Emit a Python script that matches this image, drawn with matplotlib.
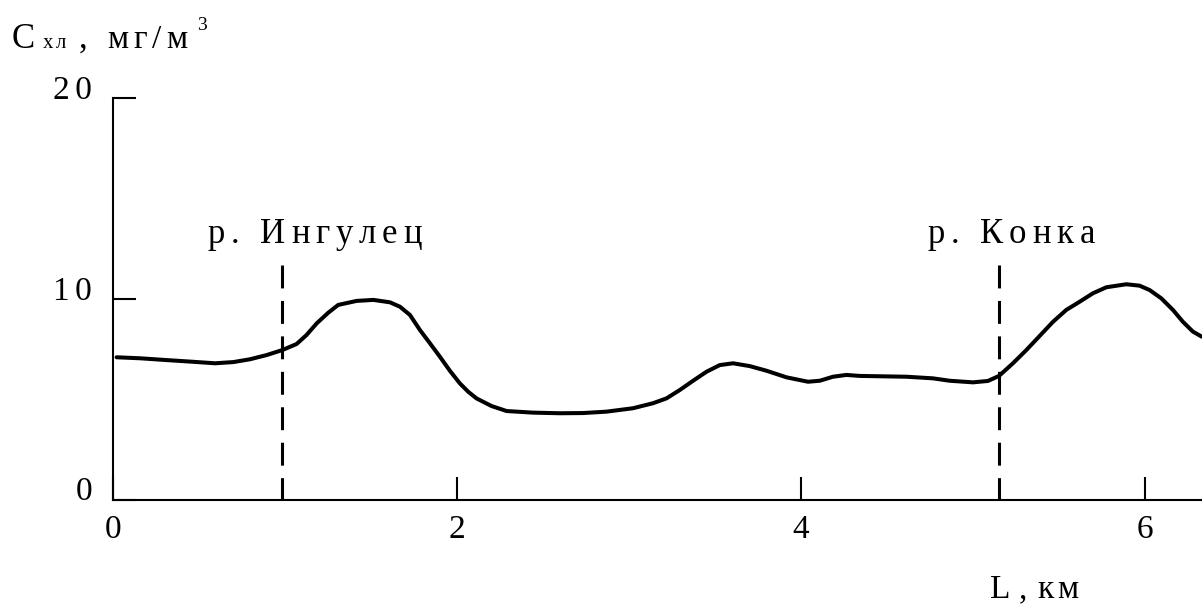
import matplotlib
matplotlib.use("Agg")
import matplotlib.pyplot as plt
from matplotlib import font_manager
from matplotlib.ft2font import FT2Font
from matplotlib.transforms import ScaledTranslation

plt.rcParams['font.family'] = ['Liberation Serif', 'DejaVu Serif']

# концентрация хлоридов вдоль русла
dist_km = [0.021, 0.157, 0.312, 0.457, 0.593, 0.699, 0.796, 0.893, 0.984,
           1.067, 1.125, 1.184, 1.251, 1.309, 1.416, 1.513, 1.610, 1.668,
           1.726, 1.784, 1.842, 1.900, 1.958, 2.016, 2.065, 2.113, 2.200,
           2.288, 2.442, 2.597, 2.733, 2.869, 3.023, 3.139, 3.217, 3.295,
           3.372, 3.450, 3.527, 3.604, 3.701, 3.798, 3.915, 4.040, 4.108,
           4.185, 4.263, 4.341, 4.612, 4.766, 4.863, 4.999, 5.086, 5.150,
           5.231, 5.309, 5.386, 5.464, 5.541, 5.619, 5.696, 5.774, 5.890,
           5.967, 6.026, 6.093, 6.161, 6.219, 6.277, 6.328]
chl_conc = [7.09, 7.04, 6.95, 6.87, 6.79, 6.85, 6.99, 7.20, 7.45,
            7.75, 8.20, 8.78, 9.31, 9.70, 9.90, 9.95, 9.83, 9.61,
            9.20, 8.45, 7.79, 7.12, 6.42, 5.79, 5.37, 5.04, 4.66,
            4.41, 4.33, 4.30, 4.31, 4.38, 4.55, 4.80, 5.04, 5.46,
            5.92, 6.37, 6.70, 6.79, 6.65, 6.42, 6.09, 5.87, 5.92,
            6.12, 6.21, 6.16, 6.12, 6.04, 5.92, 5.84, 5.91, 6.16,
            6.79, 7.45, 8.15, 8.86, 9.45, 9.86, 10.28, 10.58, 10.73,
            10.66, 10.44, 10.03, 9.45, 8.86, 8.37, 8.12]

# притоки
river_km = [0.98, 5.15]
river_names = ['р. Ингулец', 'р. Конка']
river_label_x = [0.552, 4.736]
river_label_y = 12.79
river_top = 11.7

x_ticks = [0, 2, 4, 6]
y_ticks = [0, 10, 20]

W, H = 1202, 608
FONT_PATH = font_manager.findfont(font_manager.FontProperties(family='Liberation Serif'))

fig = plt.figure(figsize=(W / 100, H / 100), dpi=100)


def tracked(x, y, s, size, track, transform):
    """Текст с разрядкой: каждый символ ставится отдельно."""
    font = FT2Font(FONT_PATH)
    font.set_size(size, 72)
    off = 0.0
    for ch in s:
        tr = transform + ScaledTranslation(off / 72, 0, fig.dpi_scale_trans)
        fig.text(x, y, ch, fontsize=size, ha='left', va='baseline',
                 transform=tr)
        g = font.load_char(ord(ch))
        off += g.linearHoriAdvance / 65536 + track


def fpos(px, py):
    return px / W, 1 - py / H


ax = fig.add_axes([113 / W, 1 - 499.5 / H, (W - 113) / W, (499.5 - 98.3) / H])
ax.set_xlim(0, 6.33)
ax.set_ylim(0, 20)

for side in ['top', 'right']:
    ax.spines[side].set_visible(False)
for side in ['left', 'bottom']:
    ax.spines[side].set_linewidth(1.5)

ax.plot(dist_km, chl_conc, color='black', lw=2.9, solid_joinstyle='round',
        solid_capstyle='round', clip_on=False)

for xr in river_km:
    ax.plot([xr, xr], [river_top, 0], color='black', lw=2.2,
            dashes=(7.5, 4.1), clip_on=False)

for name, lx in zip(river_names, river_label_x):
    tracked(lx, river_label_y, name, 25, 4.2, ax.transData)

ax.set_xticks(x_ticks)
ax.set_xticklabels([str(v) for v in x_ticks], fontsize=24)
ax.set_yticks(y_ticks)
ax.set_yticklabels(['\u200a\u200a'.join(str(v)) for v in y_ticks], fontsize=24)
ax.tick_params(axis='both', direction='in', length=16.5, width=1.5,
               colors='black')
ax.tick_params(axis='x', pad=11)
ax.tick_params(axis='y', pad=15)
for lab in ax.get_yticklabels():
    lab.set_transform(lab.get_transform()
                      + ScaledTranslation(0, 8 / 72, fig.dpi_scale_trans))

# подпись оси y: С_хл, мг/м³
tracked(*fpos(12, 48), 'С', 25, 0, fig.transFigure)
tracked(*fpos(43, 48), 'хл', 15, 2.0, fig.transFigure)
tracked(*fpos(79, 48), ',', 25, 0, fig.transFigure)
tracked(*fpos(107, 48), 'мг/м', 24, 3.6, fig.transFigure)
tracked(*fpos(197, 30), '3', 14, 0, fig.transFigure)

# подпись оси x: L , км
tracked(*fpos(990, 598), 'L', 24, 0, fig.transFigure)
tracked(*fpos(1019, 598), ',', 24, 0, fig.transFigure)
tracked(*fpos(1037, 598), 'км', 24, 3.0, fig.transFigure)

fig.savefig('out.png', dpi=100)
